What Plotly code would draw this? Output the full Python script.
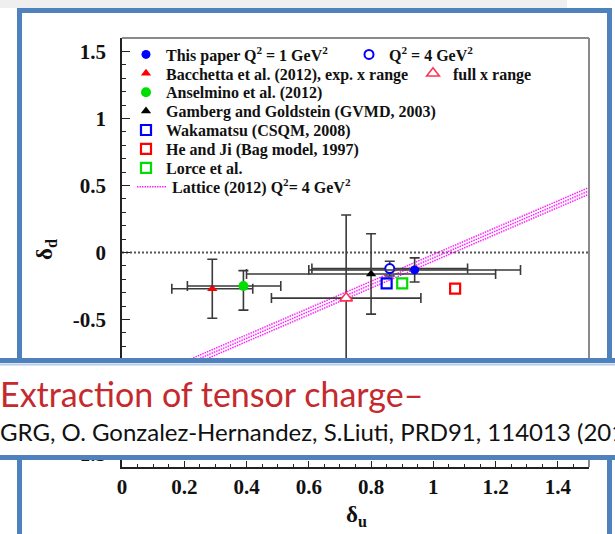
import plotly.graph_objects as go

# ---------------------------------------------------------------------------
# Tensor charges: delta_u (x axis) vs delta_d (y axis)
# ---------------------------------------------------------------------------
# This paper, Q^2 = 1 GeV^2
q1_du = [0.94]
q1_dd = [-0.13]
q1_du_err = [0.34]
q1_dd_err = [0.09]

# This paper, Q^2 = 4 GeV^2
q4_du = [0.86]
q4_dd = [-0.12]
q4_du_err = [0.25]
q4_dd_err = [0.055]

# Bacchetta et al. (2012), experimental x range
bac_exp_du = [0.29]
bac_exp_dd = [-0.27]
bac_exp_du_err = [0.13]
bac_exp_dd_err = [0.22]

# Bacchetta et al. (2012), full x range
bac_full_du = [0.72]
bac_full_dd = [-0.34]
bac_full_du_err = [0.24]
bac_full_dd_err = [0.62]

# Anselmino et al. (2012), asymmetric errors
ans_du = [0.39]
ans_dd = [-0.25]
ans_du_plus = [0.12]
ans_du_minus = [0.18]
ans_dd_plus = [0.115]
ans_dd_minus = [0.18]

# Gamberg and Goldstein (GVMD, 2003)
gg_du = [0.80]
gg_dd = [-0.16]
gg_du_err = [0.40]
gg_dd_err = [0.30]

# Model values without errors
waka_du = [0.85]
waka_dd = [-0.23]
heji_du = [1.07]
heji_dd = [-0.27]
lorce_du = [0.90]
lorce_dd = [-0.23]

# Lattice (2012) band: central line and its two edges
lattice_du = [0.0, 1.5]
lattice_dd_mid = [-1.04, 0.46]
lattice_dd_hi = [-1.015, 0.485]
lattice_dd_lo = [-1.065, 0.435]

# Axis ticks
x_tickvals = [0, 0.2, 0.4, 0.6, 0.8, 1.0, 1.2, 1.4]
x_ticktext = ["0", "0.2", "0.4", "0.6", "0.8", "1", "1.2", "1.4"]
y_tickvals = [-1.5, -1, -0.5, 0, 0.5, 1, 1.5]
y_ticktext = ["-1.5", "-1", "-0.5", "0", "0.5", "1", "1.5"]

# Legend labels
names = {
    "q1": "This paper Q<sup>2</sup> = 1 GeV<sup>2</sup>",
    "q4": "Q<sup>2</sup> = 4 GeV<sup>2</sup>",
    "bac_exp": "Bacchetta et al. (2012), exp. x range",
    "bac_full": "full x range",
    "ans": "Anselmino et al. (2012)",
    "gg": "Gamberg and Goldstein (GVMD, 2003)",
    "waka": "Wakamatsu (CSQM, 2008)",
    "heji": "He and Ji (Bag model, 1997)",
    "lorce": "Lorce et al.",
    "lattice": "Lattice (2012) Q<sup>2</sup>= 4 GeV<sup>2</sup>",
}

title_text = "Extraction of tensor charge\u2013"
subtitle_text = "GRG, O. Gonzalez-Hernandez, S.Liuti, PRD91, 114013 (2015)"

# ---------------------------------------------------------------------------
# Page geometry (pixels) and helpers to express pixels in paper units
# ---------------------------------------------------------------------------
W, H = 615, 534
L, R, T, B = 122, 589, 38, 467


def px(x):
    return (x - L) / (R - L)


def py(y):
    return (B - y) / (B - T)


SERIF = "Liberation Serif"
BLUE = "#0000ff"
RED = "#ff0000"
GREEN = "#00dd00"
FRAME_BLUE = "#4f81bd"
ERR = dict(color="#3a3a3a", thickness=1.6, width=5)


def err(plus, minus=None):
    d = dict(type="data", array=plus, visible=True, **ERR)
    if minus is not None:
        d.update(symmetric=False, arrayminus=minus)
    return d


fig = go.Figure()

# lattice band (three fine dotted lines)
for dd, show in ((lattice_dd_hi, False), (lattice_dd_lo, False), (lattice_dd_mid, True)):
    fig.add_trace(go.Scatter(
        x=lattice_du, y=dd, mode="lines",
        line=dict(color="#ff22ff", width=1.5, dash="1.5px,1px"),
        name=names["lattice"], showlegend=show, legend="legend10",
        hoverinfo="skip"))

fig.add_trace(go.Scatter(
    x=bac_exp_du, y=bac_exp_dd, mode="markers", name=names["bac_exp"],
    error_x=err(bac_exp_du_err), error_y=err(bac_exp_dd_err),
    marker=dict(symbol="triangle-up", size=9, color=RED), legend="legend3"))
fig.add_trace(go.Scatter(
    x=ans_du, y=ans_dd, mode="markers", name=names["ans"],
    error_x=err(ans_du_plus, ans_du_minus), error_y=err(ans_dd_plus, ans_dd_minus),
    marker=dict(symbol="circle", size=10, color=GREEN), legend="legend5"))
fig.add_trace(go.Scatter(
    x=bac_full_du, y=bac_full_dd, mode="markers", name=names["bac_full"],
    error_x=err(bac_full_du_err), error_y=err(bac_full_dd_err),
    marker=dict(symbol="triangle-up", size=11, color="white",
                line=dict(color="#ff3355", width=1.6)), legend="legend4"))
fig.add_trace(go.Scatter(
    x=gg_du, y=gg_dd, mode="markers", name=names["gg"],
    error_x=err(gg_du_err), error_y=err(gg_dd_err),
    marker=dict(symbol="triangle-up", size=9, color="black"), legend="legend6"))
fig.add_trace(go.Scatter(
    x=q4_du, y=q4_dd, mode="markers", name=names["q4"],
    error_x=err(q4_du_err), error_y=err(q4_dd_err),
    marker=dict(symbol="circle", size=9, color="white",
                line=dict(color=BLUE, width=2)), legend="legend2"))
fig.add_trace(go.Scatter(
    x=q1_du, y=q1_dd, mode="markers", name=names["q1"],
    error_x=err(q1_du_err), error_y=err(q1_dd_err),
    marker=dict(symbol="circle", size=9, color=BLUE), legend="legend"))
fig.add_trace(go.Scatter(
    x=waka_du, y=waka_dd, mode="markers", name=names["waka"],
    marker=dict(symbol="square-open", size=10, color=BLUE, line=dict(width=2.2)),
    legend="legend7"))
fig.add_trace(go.Scatter(
    x=heji_du, y=heji_dd, mode="markers", name=names["heji"],
    marker=dict(symbol="square-open", size=10, color=RED, line=dict(width=2.2)),
    legend="legend8"))
fig.add_trace(go.Scatter(
    x=lorce_du, y=lorce_dd, mode="markers", name=names["lorce"],
    marker=dict(symbol="square-open", size=10, color=GREEN, line=dict(width=2.2)),
    legend="legend9"))

# one single-entry legend per slot so rows sit at the printed spacing
ROW0, ROW_STEP = 54.5, 18.9
legend_slots = {
    "legend": (126, 0), "legend2": (349, 0),
    "legend3": (126, 1), "legend4": (413, 1),
    "legend5": (126, 2), "legend6": (126, 3),
    "legend7": (126, 4), "legend8": (126, 5),
    "legend9": (126, 6), "legend10": (132, 7),
}
legend_layout = {}
for key, (lx, row) in legend_slots.items():
    legend_layout[key] = dict(
        x=px(lx), y=py(ROW0 + ROW_STEP * row), xref="paper", yref="paper",
        xanchor="left", yanchor="middle", bgcolor="rgba(0,0,0,0)",
        borderwidth=0, font=dict(family=SERIF, size=16, color="#111", weight="bold"))

shapes = [
    # faint strip above the frame
    dict(type="rect", xref="paper", yref="paper", x0=px(-5), x1=px(567),
         y0=py(8), y1=py(-5), fillcolor="#efefef", line=dict(width=0), layer="below"),
    # dotted zero line
    dict(type="line", xref="x domain", yref="y", x0=0, x1=1, y0=0, y1=0,
         line=dict(color="#555", width=2, dash="2px,2px"), layer="below"),
    # grey top and right edges of the plot box
    dict(type="line", xref="x domain", yref="y domain", x0=0, x1=1, y0=1, y1=1,
         line=dict(color="#8a8a8a", width=2), layer="above"),
    dict(type="line", xref="x domain", yref="y domain", x0=1, x1=1, y0=0, y1=1,
         line=dict(color="#8a8a8a", width=2), layer="above"),
    # blue slide frame
    dict(type="rect", xref="paper", yref="paper", x0=px(19.5), x1=px(609.5),
         y0=py(600), y1=py(10.5), line=dict(color=FRAME_BLUE, width=5),
         fillcolor="rgba(0,0,0,0)", layer="above"),
    # caption banner
    dict(type="rect", xref="paper", yref="paper", x0=px(-10), x1=px(630),
         y0=py(459), y1=py(359), fillcolor="white", line=dict(width=0), layer="above"),
    dict(type="line", xref="paper", yref="paper", x0=px(-10), x1=px(630),
         y0=py(360.5), y1=py(360.5), line=dict(color=FRAME_BLUE, width=5), layer="above"),
    dict(type="line", xref="paper", yref="paper", x0=px(-10), x1=px(630),
         y0=py(364.5), y1=py(364.5), line=dict(color="#b7cce6", width=2), layer="above"),
    dict(type="line", xref="paper", yref="paper", x0=px(-10), x1=px(630),
         y0=py(457.5), y1=py(457.5), line=dict(color=FRAME_BLUE, width=5), layer="above"),
]

annotations = [
    dict(text="\u03b4<sub>d</sub>", x=px(46), y=py(250), xref="paper", yref="paper",
         textangle=-90, showarrow=False, xanchor="center", yanchor="middle",
         font=dict(family=SERIF, size=23, color="#111", weight="bold")),
    dict(text="\u03b4<sub>u</sub>", x=px(356), y=py(516), xref="paper", yref="paper",
         showarrow=False, xanchor="center", yanchor="middle",
         font=dict(family=SERIF, size=23, color="#111", weight="bold")),
    dict(text=title_text, x=px(-2), y=py(393), xref="paper", yref="paper",
         showarrow=False, xanchor="left", yanchor="middle",
         font=dict(family="Lato", size=34, color="#c42a2e")),
    dict(text=subtitle_text, x=px(-2), y=py(431), xref="paper", yref="paper",
         showarrow=False, xanchor="left", yanchor="middle",
         font=dict(family="Lato", size=24, color="#111")),
]

axis_common = dict(
    showline=True, linecolor="#222", linewidth=1.5, mirror=False,
    showgrid=False, zeroline=False, ticks="inside", tickcolor="#222",
    tickfont=dict(family=SERIF, size=21, color="#111", weight="bold"),
)

fig.update_layout(
    width=W, height=H, margin=dict(l=L, r=W - R, t=T, b=H - B),
    paper_bgcolor="white", plot_bgcolor="white",
    xaxis=dict(range=[0, 1.5], tickvals=x_tickvals, ticktext=x_ticktext,
               ticklen=6, tickwidth=1.3, ticklabelstandoff=0,
               minor=dict(dtick=0.05, ticklen=3, ticks="inside", tickcolor="#222"),
               **axis_common),
    yaxis=dict(range=[-1.6, 1.6], tickvals=y_tickvals, ticktext=y_ticktext,
               ticklen=8, tickwidth=1.3, ticklabelstandoff=10,
               minor=dict(dtick=0.1, ticklen=4, ticks="inside", tickcolor="#222"),
               **axis_common),
    shapes=shapes, annotations=annotations, showlegend=True,
    **legend_layout,
)

fig.write_html("out.html")
